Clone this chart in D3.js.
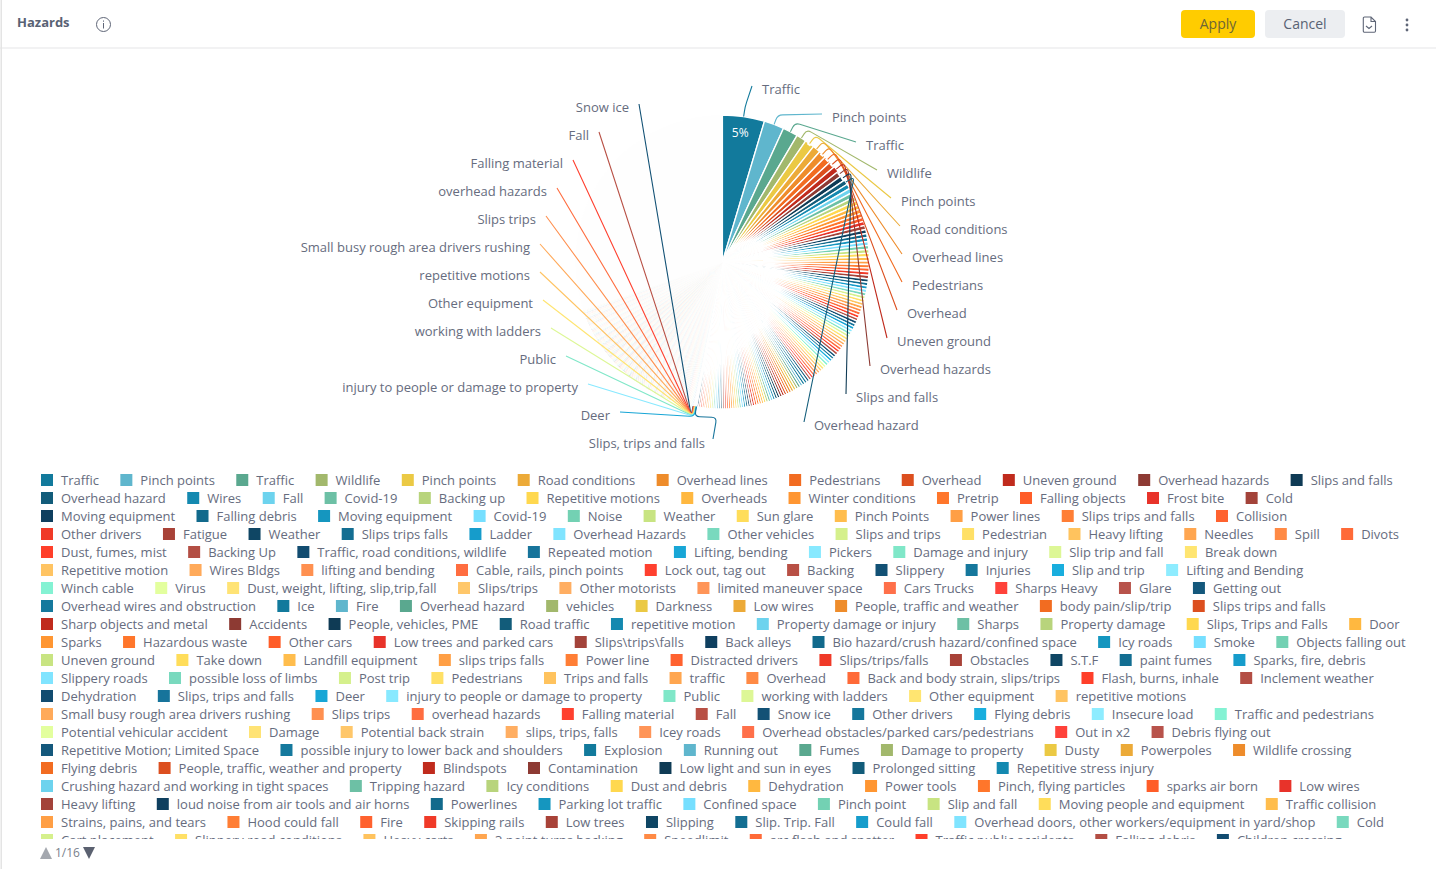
<!DOCTYPE html>
<html><head><meta charset="utf-8">
<script src="https://cdn.jsdelivr.net/npm/d3@7"></script>
<style>
html,body{margin:0;padding:0;background:#fff;overflow:hidden}
svg{display:block}
text{font-family:"Open Sans",sans-serif}
</style></head><body>
<svg id="c" width="1436" height="869" viewBox="0 0 1436 869"></svg>
<script>
// ---------- data: legend page 1/16, row by row ----------
const legendRows = [
 ["Traffic","Pinch points","Traffic","Wildlife","Pinch points","Road conditions","Overhead lines","Pedestrians","Overhead","Uneven ground","Overhead hazards","Slips and falls"],
 ["Overhead hazard","Wires","Fall","Covid-19","Backing up","Repetitive motions","Overheads","Winter conditions","Pretrip","Falling objects","Frost bite","Cold"],
 ["Moving equipment","Falling debris","Moving equipment","Covid-19","Noise","Weather","Sun glare","Pinch Points","Power lines","Slips trips and falls","Collision"],
 ["Other drivers","Fatigue","Weather","Slips trips falls","Ladder","Overhead Hazards","Other vehicles","Slips and trips","Pedestrian","Heavy lifting","Needles","Spill","Divots"],
 ["Dust, fumes, mist","Backing Up","Traffic, road conditions, wildlife","Repeated motion","Lifting, bending","Pickers","Damage and injury","Slip trip and fall","Break down"],
 ["Repetitive motion","Wires Bldgs","lifting and bending","Cable, rails, pinch points","Lock out, tag out","Backing","Slippery","Injuries","Slip and trip","Lifting and Bending"],
 ["Winch cable","Virus","Dust, weight, lifting, slip,trip,fall","Slips/trips","Other motorists","limited maneuver space","Cars Trucks","Sharps Heavy","Glare","Getting out"],
 ["Overhead wires and obstruction","Ice","Fire","Overhead hazard","vehicles","Darkness","Low wires","People, traffic and weather","body pain/slip/trip","Slips trips and falls"],
 ["Sharp objects and metal","Accidents","People, vehicles, PME","Road traffic","repetitive motion","Property damage or injury","Sharps","Property damage","Slips, Trips and Falls","Door"],
 ["Sparks","Hazardous waste","Other cars","Low trees and parked cars","Slips\\trips\\falls","Back alleys","Bio hazard/crush hazard/confined space","Icy roads","Smoke","Objects falling out"],
 ["Uneven ground","Take down","Landfill equipment","slips trips falls","Power line","Distracted drivers","Slips/trips/falls","Obstacles","S.T.F","paint fumes","Sparks, fire, debris"],
 ["Slippery roads","possible loss of limbs","Post trip","Pedestrians","Trips and falls","traffic","Overhead","Back and body strain, slips/trips","Flash, burns, inhale","Inclement weather"],
 ["Dehydration","Slips, trips and falls","Deer","injury to people or damage to property","Public","working with ladders","Other equipment","repetitive motions"],
 ["Small busy rough area drivers rushing","Slips trips","overhead hazards","Falling material","Fall","Snow ice","Other drivers","Flying debris","Insecure load","Traffic and pedestrians"],
 ["Potential vehicular accident","Damage","Potential back strain","slips, trips, falls","Icey roads","Overhead obstacles/parked cars/pedestrians","Out in x2","Debris flying out"],
 ["Repetitive Motion; Limited Space","possible injury to lower back and shoulders","Explosion","Running out","Fumes","Damage to property","Dusty","Powerpoles","Wildlife crossing"],
 ["Flying debris","People, traffic, weather and property","Blindspots","Contamination","Low light and sun in eyes","Prolonged sitting","Repetitive stress injury"],
 ["Crushing hazard and working in tight spaces","Tripping hazard","Icy conditions","Dust and debris","Dehydration","Power tools","Pinch, flying particles","sparks air born","Low wires"],
 ["Heavy lifting","loud noise from air tools and air horns","Powerlines","Parking lot traffic","Confined space","Pinch point","Slip and fall","Moving people and equipment","Traffic collision"],
 ["Strains, pains, and tears","Hood could fall","Fire","Skipping rails","Low trees","Slipping","Slip. Trip. Fall","Could fall","Overhead doors, other workers/equipment in yard/shop","Cold"],
 ["Cart placement","Slippery road conditions","Heavy carts","3 point turns backing","Speedlimit","arc flash and spatter","Traffic public accidents","Falling debris","Children crossing"]
];
// shares in percent
const headValues = [4.55,2.17,1.64,1.08,1.03,.86,.81,.75,.69,.64,.58,.56,.53];
const midValues = [
 .52,.51,.50,.49,.48,.47,.47,.46,.45,.45,
 .44,.44,.43,.43,.42,.42,.41,.41,.40,.40,
 .39,.39,.39,.38,.38,.38,.37,.37,.37,.36,
 .36,.36,.35,.35,.35,.35,.34,.34,.34,.34,
 .33,.33,.33,.33,.32,.32,.32,.32,.32,.32,
 .31,.31,.31,.31,.31,.30,.30,.30,.30,.30,
 .29,.29,.29,.29,.29,.29,.28,.28,.28,.28,
 .28,.28,.27,.27,.27,.27,.27,.27,.26,.26,
 .26,.26,.25,.25,.25,.25,.25,.25,.24,.24,
 .24,.24,.24,.23,.23,.23,.23,.23,.23,.22,
 .21,.21,.21,.21,.21,.20,.20,.20,.20,.20,
 .20,.19,.19,.19,.19,.19];
const tinyValues = [.03,.03,.03,.03,.03,.03,.03,.03,.03,.03,.03,.03,.03];
const tailValues = [
 .07,.07,.07,.07,.07,.07,.07,.07,.07,.07,.07,.07,.07,.07,.07,.07,.07,.07,.07,.07,
 .07,.07,.07,.07,.07,.07,.07,.07,.07,.07,.07,.07,.07,.07,.07,.07,.07,.07,.07,.07,
 .065,.065,.065,.065,.065,.065,.065,.065,.065,.065,.065,.065,.065,.065,.065,.065,.065,.065,.065,.065,
 .065,.065,.065,.065,.065,.065,.065,.065,.065,.065,.065,.065,.065,.065,.065,.065,.065,.065,.065,.065,
 .06,.06,.06,.06,.06,.06,.06,.06,.06,.06,.06,.06,.06,.06,.06,.06,.06,.06,.06,.06,
 .06,.06,.06,.06,.06,.06,.06,.06,.06,.06,.06,.06,.06,.06,.06,.06,.06,.06,.06,.06,
 .06,.06,.06,.06,.06,.06,.06,.06,.06,.06,.06,.06,.06,.06,.06,.06,.06,.06,.06,.06,
 .055,.055,.055,.055,.055,.055,.055,.055,.055,.055,.055,.055,.055,.055,.055,.055,.055,.055,.055,.055,
 .055,.055,.055,.055,.055,.055,.055,.055,.055,.055,.055,.055,.055,.055,.055,.055,.055,.055,.055,.055,
 .055,.055,.055,.055,.055,.055,.055,.055,.055,.055,.055,.055,.055,.055,.055,.055,.055,.055,.055,.055,
 .05,.05,.05,.05,.05,.05,.05,.05,.05,.05,.05,.05,.05,.05,.05,.05,.05,.05,.05,.05,
 .05,.05,.05,.05,.05,.05,.05,.05,.05,.05,.05,.05,.05,.05,.05,.05,.05,.05,.05,.05,
 .05,.05,.05,.05,.05,.05,.05,.05,.05,.05,.05,.05,.05,.05,.05,.05,.05,.05,.05,.05,
 .05,.05,.05,.05,.05,.05,.05,.05,.05,.05,.05,.05,.05,.05,.05,.05,.05,.05,.05,.05];
const remainderValue = [29.8]; // categories on legend pages 2-16, too thin to show
// slice indexes that carry an outside label
const rightLabelled = [0,1,2,3,4,5,6,7,8,9,10,11,12];
const leftLabelled  = [141,140,139,138,137,136,135,134,133,132,131,130,129];
const rimNotched = [4,6,7,8,10,11];

// ---------- styles / layout ----------
const palette = [
 "#127a9c","#5fb6cd","#5aa88f","#a2b86c","#ebc944","#ecaa38","#ee8c2b","#f26c21","#dc4f1f","#c02b1d","#8d3a33","#0f3b55","#125c7a",
 "#1489b0","#6dd3ee","#6dc0a5","#b8d47c","#ffd84f","#ffb840","#ff9632","#ff762b","#ff5d28","#e8332a","#a3433a","#0f3f5f","#126a8c",
 "#1596bf","#76dfff","#73d1b3","#c8e482","#ffdd5a","#ffbd4d","#ff9f45","#ff7e35","#ff622f","#f03a28","#a84238","#0f4664","#136e92",
 "#169ccb","#80e4ff","#79d9be","#d5f08c","#ffe066","#ffc35e","#ffa650","#ff8a45","#ff6a38","#ff3f2a","#b34e44","#124c70","#17749b",
 "#18a6d6","#88e9ff","#80e7c8","#ddf796","#ffe571","#ffc463","#ffaa5a","#ff9050","#ff6d40","#ff402f","#b85045","#125175","#15779c",
 "#19aede","#8eecff","#84f2d3","#e3ff9e","#ffe375","#ffc76a","#ffae62","#ff9558","#ff704a","#ff423a","#b8534b","#14587c","#15799d"];
const textColor = "#666c7e";
const cx = 722.4, cy = 262, outerR = 147;
const labelFont = 13;
const sliceBorder = 1.35, tailBorder = 1;
const rightEdges = [762,832,866,887,901,910,912,912,907,897,880,856,814];
const leftEdges  = [629,589,563,547,536,530,530,533,541,556,578,610,705];

const svg = d3.select("#c");

// ---------- chrome ----------
svg.append("rect").attr("width",1436).attr("height",47).attr("fill","#fff");
svg.append("rect").attr("y",47).attr("width",1436).attr("height",2).attr("fill","#f2f2f3");
svg.append("rect").attr("x",0.5).attr("width",1.5).attr("height",869).attr("fill","#e4e4e4");
svg.append("text").attr("x",17).attr("y",27).attr("font-size",13).attr("font-weight",700).attr("fill","#596274").text("Hazards");
const info = svg.append("g").attr("transform","translate(103.5,24.5)");
info.append("circle").attr("r",7).attr("fill","none").attr("stroke","#5f6677").attr("stroke-width",1);
info.append("rect").attr("x",-.5).attr("y",-1.5).attr("width",1).attr("height",5.5).attr("fill","#5f6677");
info.append("rect").attr("x",-.5).attr("y",-4).attr("width",1).attr("height",1.2).attr("fill","#5f6677");
svg.append("rect").attr("x",1181).attr("y",10).attr("width",74).attr("height",28).attr("rx",4).attr("fill","#ffcc00");
svg.append("text").attr("x",1218).attr("y",29).attr("text-anchor","middle").attr("font-size",14).attr("fill","#6d6636").text("Apply");
svg.append("rect").attr("x",1265).attr("y",10).attr("width",80).attr("height",28).attr("rx",4).attr("fill","#eceef1");
svg.append("text").attr("x",1305).attr("y",29).attr("text-anchor","middle").attr("font-size",14).attr("fill","#596274").text("Cancel");
svg.append("path").attr("d","M1364.5 17h6.5l4.5 4.5v9.5a1.2 1.2 0 0 1-1.2 1.2h-9.8a1.2 1.2 0 0 1-1.2-1.2v-12.8a1.2 1.2 0 0 1 1.2-1.2zM1371 17v4.5h4.5M1366 26l3 2.5 3-2.5")
  .attr("fill","none").attr("stroke","#5f6677").attr("stroke-width",1.1);
[20,25,30].forEach(y=>svg.append("circle").attr("cx",1407).attr("cy",y).attr("r",1.4).attr("fill","#5f6677"));

// ---------- pie ----------
const names = legendRows.flat();
const values = [...headValues,...midValues,...tinyValues,...tailValues,...remainderValue];
const remainderIndex = values.length-1;
const tailStart = headValues.length+midValues.length+tinyValues.length;
const pie = d3.pie().sort(null).value(d=>d.v).startAngle(0).endAngle(2*Math.PI);
const arcs = pie(values.map((v,i)=>({v,i,name:names[i]||""})));
const arc = d3.arc().innerRadius(0).outerRadius(outerR);
const colorOf = i => palette[i % palette.length];
const pieG = svg.append("g").attr("transform",`translate(${cx},${cy})`);
pieG.selectAll("path.s").data(arcs).join("path").attr("class","s")
  .attr("d",arc)
  .attr("fill",d=>d.data.i===remainderIndex?"#fefefe":colorOf(d.data.i))
  .attr("stroke","#fff").attr("stroke-width",d=>d.data.i>=tailStart?tailBorder:sliceBorder).attr("stroke-linejoin","bevel");
// small white blocks sitting on the rim of a few slices
pieG.selectAll("rect.notch").data(rimNotched).join("rect").attr("class","notch")
  .attr("x",-2).attr("y",-outerR-1.5).attr("width",4).attr("height",3.5).attr("fill","#fff")
  .attr("transform",i=>`rotate(${(arcs[i].startAngle+arcs[i].endAngle)*90/Math.PI})`);
const total = d3.sum(values);
pieG.append("text")
  .attr("transform",()=>{const c=d3.arc().innerRadius(130).outerRadius(130).centroid(arcs[0]);return `translate(${c[0]-1},${c[1]-1})`;})
  .attr("text-anchor","middle").attr("dominant-baseline","central").attr("font-size",12).attr("fill","#fff")
  .text(d3.format(".0%")(values[0]/total));

// ---------- outside labels and leader lines ----------
const labelG = svg.append("g");
const lineG = svg.append("g");
function leader(idx,edgeX,textY,side,via){
  const a=arcs[idx], mid=(a.startAngle+a.endAngle)/2;
  const s=Math.sin(mid), c=-Math.cos(mid);
  const p0=[cx+s*outerR,cy+c*outerR], p1=[cx+s*(outerR+10),cy+c*(outerR+10)];
  const p2=[edgeX+side*10,textY-3];
  const pts=[p0,p1,...(via||[]),p2];
  const p=d3.path(); p.moveTo(p0[0],p0[1]);
  for(let k=1;k<pts.length-1;k++){
    const A=pts[k-1],B=pts[k],C=pts[k+1];
    const d1=Math.hypot(A[0]-B[0],A[1]-B[1]), d2=Math.hypot(C[0]-B[0],C[1]-B[1]);
    const r=Math.min(5,d1*.6,d2*.5);
    p.lineTo(B[0]+(A[0]-B[0])*r/d1,B[1]+(A[1]-B[1])*r/d1);
    p.quadraticCurveTo(B[0],B[1],B[0]+(C[0]-B[0])*r/d2,B[1]+(C[1]-B[1])*r/d2);
  }
  p.lineTo(p2[0],p2[1]);
  lineG.append("path").attr("d",p.toString()).attr("fill","none").attr("stroke",colorOf(idx)).attr("stroke-width",1.1);
}
const rightY = d3.scalePoint().domain(rightLabelled).range([89,425]);
const leftY  = d3.scalePoint().domain(leftLabelled).range([107,443]);
rightLabelled.forEach((idx,k)=>{
  const y=rightY(idx);
  labelG.append("text").attr("x",rightEdges[k]).attr("y",y).attr("dominant-baseline","central")
    .attr("font-size",labelFont).attr("fill",textColor).text(names[idx]);
  leader(idx,rightEdges[k],y,-1);
});
leftLabelled.forEach((idx,k)=>{
  const y=leftY(idx);
  labelG.append("text").attr("x",leftEdges[k]).attr("y",y).attr("text-anchor","end").attr("dominant-baseline","central")
    .attr("font-size",labelFont).attr("fill",textColor).text(names[idx]);
  let via=null;
  if(idx===129){ const a=arcs[idx],m=(a.startAngle+a.endAngle)/2;
    const bx=cx+Math.sin(m)*(outerR+10), by=cy-Math.cos(m)*(outerR+10);
    via=[[bx+22,by+1]]; }
  leader(idx,leftEdges[k]+(idx===129?-2:0),y+(idx===129?-1:0),1,via);
});

// ---------- legend ----------
svg.append("clipPath").attr("id","legendClip").append("rect").attr("x",0).attr("y",468).attr("width",1436).attr("height",371);
const legend = svg.append("g").attr("clip-path","url(#legendClip)");
const rowY = d3.scaleLinear().domain([0,1]).range([480,498]);
let index=0;
legendRows.forEach((row,r)=>{
  let x=41;
  row.forEach(name=>{
    const y=rowY(r);
    legend.append("rect").attr("x",x).attr("y",y-6).attr("width",12).attr("height",12).attr("fill",colorOf(index));
    const t=legend.append("text").attr("x",x+20).attr("y",y).attr("dominant-baseline","central")
      .attr("font-size",labelFont).attr("fill",textColor).text(name);
    x+=20+t.node().getComputedTextLength()+21.4;
    index++;
  });
});

// ---------- pager ----------
svg.append("path").attr("d","M40 859L46 847L52 859Z").attr("fill","#a4a8af");
svg.append("text").attr("x",55).attr("y",857).attr("font-size",12).attr("fill","#7a7f8c").text("1/16");
svg.append("path").attr("d","M83 847L95 847L89 859Z").attr("fill","#5b6170");
</script>
</body></html>
